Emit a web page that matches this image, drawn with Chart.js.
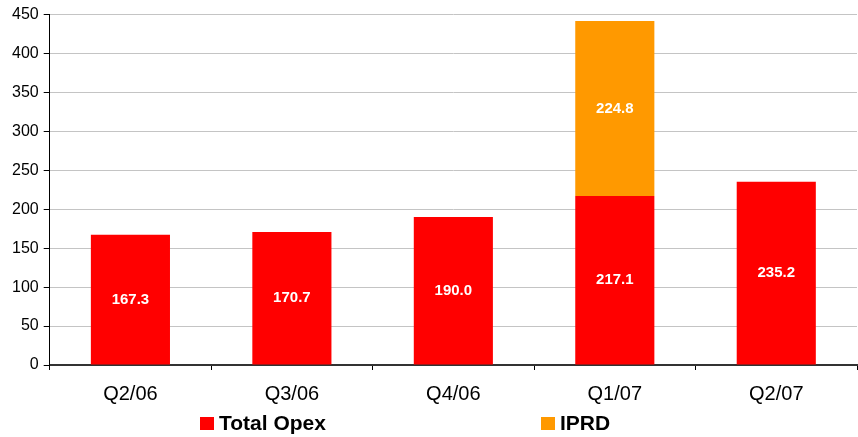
<!DOCTYPE html>
<html>
<head>
<meta charset="utf-8">
<script src="https://cdn.jsdelivr.net/npm/chart.js@4"></script>
<style>
  html, body { margin: 0; padding: 0; background: #fff; }
  #wrap { position: relative; width: 858px; height: 437px; }
  #legend { position: absolute; top: 411px; left: 0; width: 858px; height: 26px;
            font: bold 21px "Liberation Sans", Arial, sans-serif; color: #000; }
  .item { position: absolute; top: 0; white-space: nowrap; line-height: 24px; }
  .box { display: inline-block; width: 14px; height: 13px; margin-right: 5px; vertical-align: 0px; }
</style>
</head>
<body>
<div id="wrap">
  <canvas id="idOpexChart" width="858" height="437"></canvas>
  <div id="legend"></div>
</div>
<script>
const quarters    = ['Q2/06', 'Q3/06', 'Q4/06', 'Q1/07', 'Q2/07'];
const total_opex  = [167.3, 170.7, 190.0, 217.1, 235.2];
const iprd        = [null, null, null, 224.8, null];
const y_max       = 450;
const y_step      = 50;

var fontFamily = '"Liberation Sans", Arial, sans-serif';

// writes the value in the middle of every bar segment
var valueLabels = {
    id: 'valueLabels',
    afterDatasetsDraw(chart) {
        var ctx = chart.ctx;
        ctx.save();
        ctx.fillStyle = '#ffffff';
        ctx.font = 'bold 15px ' + fontFamily;
        ctx.textAlign = 'center';
        ctx.textBaseline = 'middle';
        chart.data.datasets.forEach(function (ds, i) {
            chart.getDatasetMeta(i).data.forEach(function (bar, j) {
                var v = ds.data[j];
                if (v === null || v === undefined) return;
                var p = bar.getCenterPoint();
                ctx.fillText(v.toFixed(1), p.x, p.y);
            });
        });
        ctx.restore();
    }
};

var data = {
    labels: quarters,
    datasets: [
        {
            label: 'Total Opex',
            data: total_opex,
            backgroundColor: '#ff0000',
            barPercentage: 0.49,
            categoryPercentage: 1.0
        },
        {
            label: 'IPRD',
            data: iprd,
            backgroundColor: '#ff9900',
            barPercentage: 0.49,
            categoryPercentage: 1.0
        }
    ]
};

var options = {
    responsive: false,
    animation: false,
    layout: { padding: { top: 5, right: 1, bottom: 19, left: 7 } },
    plugins: {
        legend: { display: false },
        tooltip: { enabled: false }
    },
    scales: {
        x: {
            stacked: true,
            grid: {
                display: true,
                offset: true,
                drawOnChartArea: false,
                tickLength: 5,
                color: '#000'
            },
            border: { color: '#333', width: 2 },
            ticks: {
                color: '#000',
                padding: 12,
                font: { family: fontFamily, size: 20 }
            }
        },
        y: {
            stacked: true,
            min: 0,
            max: y_max,
            ticks: {
                stepSize: y_step,
                color: '#000',
                padding: 5,
                font: { family: fontFamily, size: 16 }
            },
            grid: {
                color: '#c4c4c4',
                tickColor: '#000',
                tickLength: 6
            },
            border: { color: '#000', width: 1 }
        }
    }
};

var ctx = document.getElementById('idOpexChart').getContext('2d');
var opexChart = new Chart(ctx, {
    type: 'bar',
    data: data,
    options: options,
    plugins: [valueLabels]
});

// legend under the chart, items placed like in the original
var legendPos = [200, 541];
var legend = document.getElementById('legend');
data.datasets.forEach(function (ds, i) {
    var item = document.createElement('div');
    item.className = 'item';
    item.style.left = legendPos[i] + 'px';
    var box = document.createElement('span');
    box.className = 'box';
    box.style.background = ds.backgroundColor;
    item.appendChild(box);
    item.appendChild(document.createTextNode(ds.label));
    legend.appendChild(item);
});
</script>
</body>
</html>
